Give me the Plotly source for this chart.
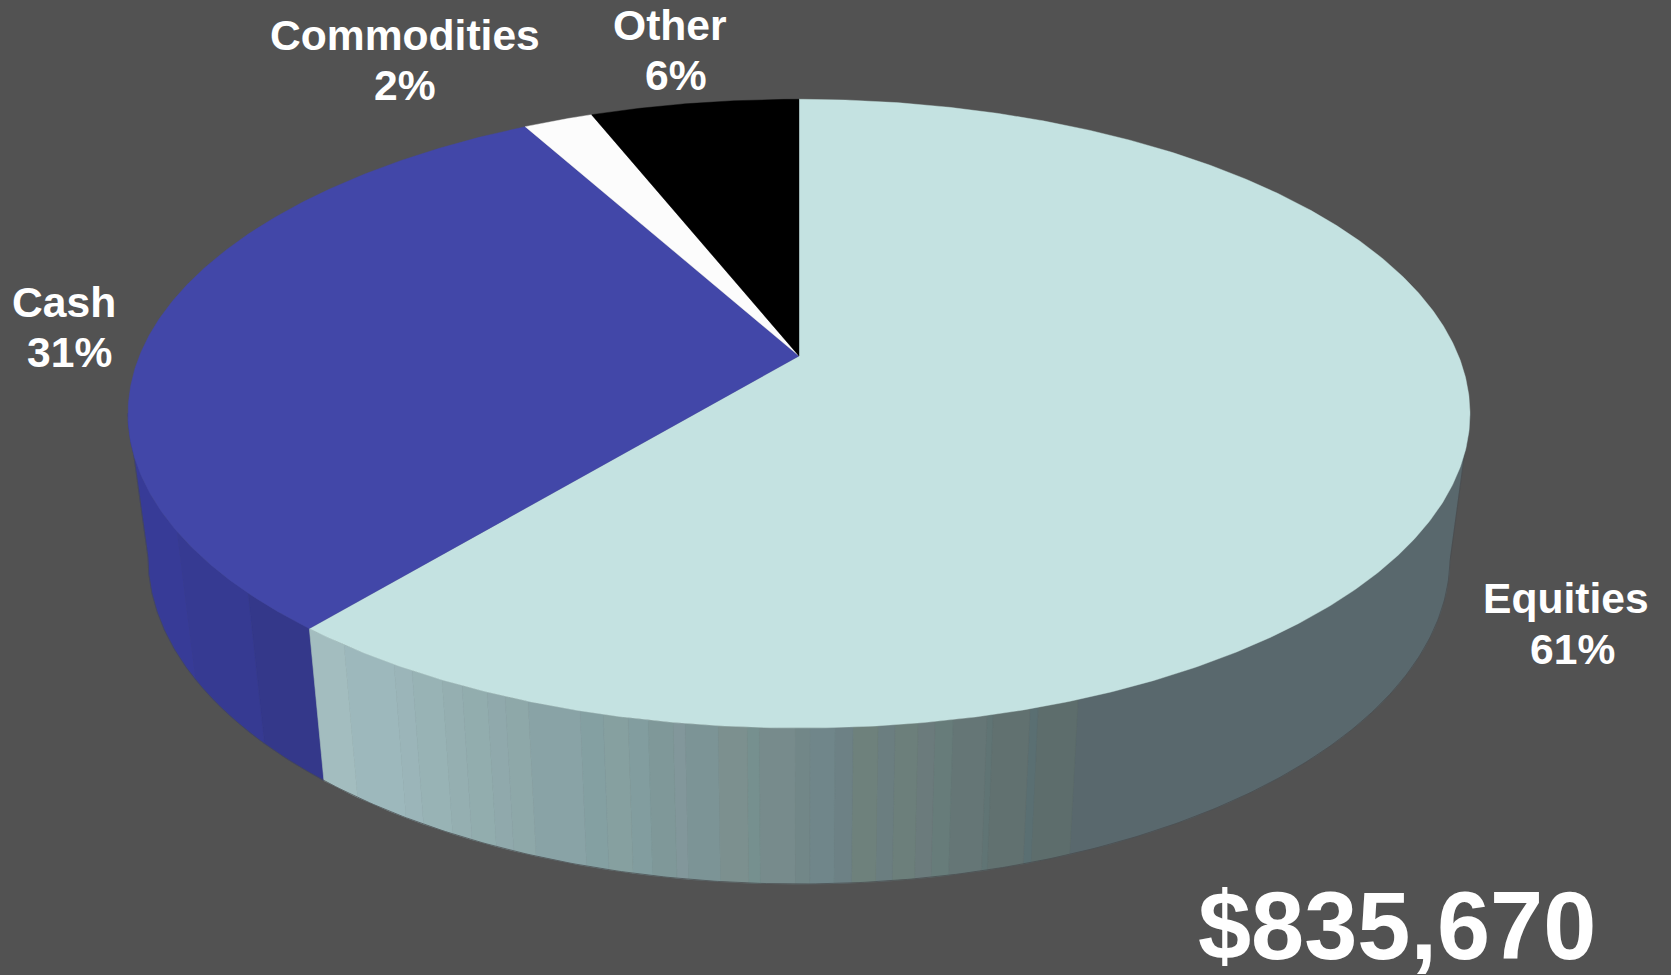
import numpy as np
import plotly.graph_objects as go

# ---- data ----
categories = ["Equities", "Cash", "Commodities", "Other"]
shares = [61, 31, 2, 6]
total_label = "$835,670"

# ---- style ----
top_colors = ["#C4E2E1", "#4247A8", "#FCFCFC", "#000000"]
BG = "#525252"
equity_edges_x = [344, 394, 412, 442, 462, 487, 505, 528, 580, 603, 628, 648, 673, 685, 718, 747, 759,
                  795, 810, 835, 853, 878, 895, 918, 935, 953, 987, 993, 1030, 1038, 1078]
equity_shades = ["#A3BDBF", "#9DB8BC", "#9BB5B9", "#98B3B5", "#95AFB1", "#92ADAE", "#90A9AC", "#8EA8A9",
                 "#89A3A6", "#84A0A2", "#86A0A0", "#829D9F", "#7F9899", "#82979B", "#7C9496", "#7C908F",
                 "#76908F", "#778B8C", "#728788", "#70868A", "#6D8185", "#6E817C", "#6B7E80", "#6C7F7B",
                 "#6B7B7C", "#677C7A", "#657676", "#607474", "#617170", "#5A6F72", "#5D6D6C", "#59686D"]
cash_edges_x = [177, 248]
cash_shades = ["#373B97", "#363A92", "#34388A"]

# placement of the label lines (centre x, centre y) in page pixels
name_pos = {"Equities": (1566, 598), "Cash": (64, 302), "Commodities": (405, 35), "Other": (670, 25)}
pct_pos = {"Equities": (1572, 649), "Cash": (69, 352), "Commodities": (405, 85), "Other": (676, 75)}
LABEL_SIZE = 42.6
TOTAL_SIZE = 95.5
TOTAL_POS = (1397, 926)

# ---- perspective disc projection ----
CX, K = 799.0, 0.1834


def top_xy(theta):
    X, Y = np.sin(theta), np.cos(theta)
    d = 1 + K * Y
    return CX + 659.6 * X / d, 356 - 303.8 * Y / d


def bottom_xy(theta):
    X, Y = np.sin(theta), np.cos(theta)
    d = 1 + K * Y
    return CX + 640 * X / d, 497 - 316 * Y / d


def sweep(a, b, step=np.radians(0.4)):
    n = max(2, int(abs(b - a) / step) + 2)
    return np.linspace(a, b, n)


def wall(a, b, color):
    t = sweep(a, b)
    x1, y1 = top_xy(t)
    x2, y2 = bottom_xy(t[::-1])
    return go.Scatter(x=np.r_[x1, x2, x1[0]], y=np.r_[y1, y2, y1[0]], mode="lines", fill="toself",
                      fillcolor=color, line=dict(color=color, width=0.6), hoverinfo="skip", showlegend=False)


fracs = np.cumsum([0] + shares) / sum(shares)
angles = 2 * np.pi * fracs
side_r = np.arccos(-K)
side_l = 2 * np.pi - side_r

table = np.linspace(side_r, np.pi * 1.5, 3000)
table_x = top_xy(table)[0]


def x_to_theta(xs):
    return np.interp(xs, table_x[::-1], table[::-1])


fig = go.Figure()

# cash wall
edges = np.r_[angles[1], x_to_theta(cash_edges_x)[::-1], side_l]
for a, b, c in zip(edges[:-1], edges[1:], cash_shades[::-1]):
    fig.add_trace(wall(a, b, c))

# equities wall
edges = np.r_[side_r, x_to_theta(equity_edges_x)[::-1], angles[1]]
for a, b, c in zip(edges[:-1], edges[1:], equity_shades[::-1]):
    fig.add_trace(wall(a, b, c))

# thin outline along the base of the wall
t = sweep(side_r, side_l)
bx, by = bottom_xy(t)
tx0, ty0 = top_xy(side_r)
tx1, ty1 = top_xy(side_l)
fig.add_trace(go.Scatter(x=np.r_[tx0, bx, tx1], y=np.r_[ty0, by, ty1], mode="lines",
                         line=dict(color="#474B4D", width=0.7), hoverinfo="skip", showlegend=False))

# top faces
for i, cat in enumerate(categories):
    t = sweep(angles[i], angles[i + 1])
    x, y = top_xy(t)
    fig.add_trace(go.Scatter(x=np.r_[CX, x, CX], y=np.r_[356, y, 356], mode="lines", fill="toself",
                             fillcolor=top_colors[i], line=dict(color=top_colors[i], width=0.4),
                             name=cat, hoverinfo="skip", showlegend=False))

font = dict(family="Liberation Sans, Arial, sans-serif", color="white")
annotations = []
for cat, share in zip(categories, shares):
    for text, pos in ((cat, name_pos[cat]), (f"{share}%", pct_pos[cat])):
        annotations.append(dict(x=pos[0], y=pos[1], text=f"<b>{text}</b>", showarrow=False,
                                xanchor="center", yanchor="middle", font=dict(size=LABEL_SIZE, **font)))
annotations.append(dict(x=TOTAL_POS[0], y=TOTAL_POS[1], text=f"<b>{total_label}</b>", showarrow=False,
                        xanchor="center", yanchor="middle", font=dict(size=TOTAL_SIZE, **font)))

fig.update_layout(
    width=1671, height=975, autosize=False,
    margin=dict(l=0, r=0, t=0, b=0),
    paper_bgcolor=BG, plot_bgcolor=BG,
    xaxis=dict(range=[0, 1671], visible=False, fixedrange=True),
    yaxis=dict(range=[975, 0], visible=False, fixedrange=True),
    annotations=annotations,
    showlegend=False,
)
fig.write_html("out.html", config={"displayModeBar": False},
               post_script="document.body.style.margin='0';document.body.style.background='#525252';document.body.style.overflow='hidden';")
